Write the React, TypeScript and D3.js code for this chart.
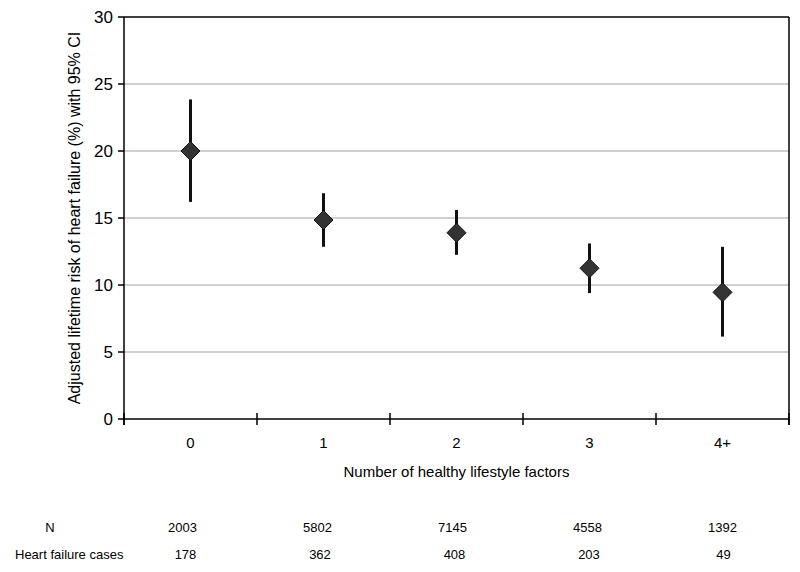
import React from "react";
import * as d3 from "d3";

const categories = ["0", "1", "2", "3", "4+"];
const estimates = [20.0, 14.85, 13.9, 11.25, 9.45];
const ciLower = [16.2, 12.85, 12.25, 9.4, 6.15];
const ciUpper = [23.85, 16.85, 15.6, 13.1, 12.85];
const yTicks = [0, 5, 10, 15, 20, 25, 30];
const nValues = ["2003", "5802", "7145", "4558", "1392"];
const hfCases = ["178", "362", "408", "203", "49"];

const W = 800;
const H = 572;
const L = 124;
const R = 789;
const T = 17;
const B = 419;
const FONT = "'Liberation Sans', Arial, sans-serif";

export default function App() {
  const x = d3.scaleBand<string>().domain(categories).range([L, R]).padding(0);
  const y = d3.scaleLinear().domain([0, 30]).range([B, T]);
  const cx = (c: string) => (x(c) as number) + x.bandwidth() / 2;
  const bounds = [...categories.map((c) => x(c) as number), R];
  const d = 9.5;

  return (
    <svg width={W} height={H} style={{ position: "absolute", left: 0, top: 0, background: "#fff" }} fontFamily={FONT}>
      <rect x={0} y={0} width={W} height={H} fill="#fff" />
      {yTicks.filter((t) => t > 0 && t < 30).map((t) => (
        <line key={"g" + t} x1={L} x2={R} y1={y(t)} y2={y(t)} stroke="#c0c0c0" strokeWidth={1.5} />
      ))}
      {/* frame */}
      <line x1={L} x2={R} y1={y(30)} y2={y(30)} stroke="#000" strokeWidth={1.5} />
      <line x1={R} x2={R} y1={T} y2={B + 6} stroke="#000" strokeWidth={1.5} />
      <line x1={L} x2={L} y1={T} y2={B + 6} stroke="#000" strokeWidth={1.5} />
      <line x1={L} x2={R} y1={B} y2={B} stroke="#000" strokeWidth={1.5} />
      {yTicks.map((t) => (
        <g key={"y" + t}>
          <line x1={L - 6} x2={L} y1={y(t)} y2={y(t)} stroke="#000" strokeWidth={1.5} />
          <text x={L - 11} y={y(t)} dy="0.35em" textAnchor="end" fontSize={17} fill="#000">
            {t}
          </text>
        </g>
      ))}
      {bounds.map((b, i) => (
        <line key={"xt" + i} x1={b} x2={b} y1={B - 6} y2={B + 6} stroke="#000" strokeWidth={1.5} />
      ))}
      {categories.map((c) => (
        <text key={"xl" + c} x={cx(c)} y={443} dy="0.35em" textAnchor="middle" fontSize={15} fill="#000">
          {c}
        </text>
      ))}
      <text x={(L + R) / 2} y={472} dy="0.35em" textAnchor="middle" fontSize={15} fill="#000">
        Number of healthy lifestyle factors
      </text>
      <text
        transform={`translate(74, ${(T + B) / 2}) rotate(-90)`}
        dy="0.35em"
        textAnchor="middle"
        fontSize={16}
        fill="#000"
      >
        Adjusted lifetime risk of heart failure (%) with 95% CI
      </text>
      {categories.map((c, i) => {
        const px = cx(c);
        const py = y(estimates[i]);
        return (
          <g key={"p" + c}>
            <line x1={px} x2={px} y1={y(ciLower[i])} y2={y(ciUpper[i])} stroke="#111" strokeWidth={3} />
            <path
              d={`M${px},${py - d}L${px + d},${py}L${px},${py + d}L${px - d},${py}Z`}
              fill="#333"
              stroke="#111"
              strokeWidth={1}
            />
          </g>
        );
      })}
      <text x={50} y={527} dy="0.35em" textAnchor="middle" fontSize={13} fill="#000">N</text>
      <text x={15} y={554} dy="0.35em" textAnchor="start" fontSize={13} fill="#000">Heart failure cases</text>
      {categories.map((c, i) => (
        <g key={"tb" + c}>
          <text x={cx(c) - 8 + i * 2} y={527} dy="0.35em" textAnchor="middle" fontSize={13} fill="#000">
            {nValues[i]}
          </text>
          <text x={cx(c) - 5 + i * 1.5} y={554} dy="0.35em" textAnchor="middle" fontSize={13} fill="#000">
            {hfCases[i]}
          </text>
        </g>
      ))}
    </svg>
  );
}
